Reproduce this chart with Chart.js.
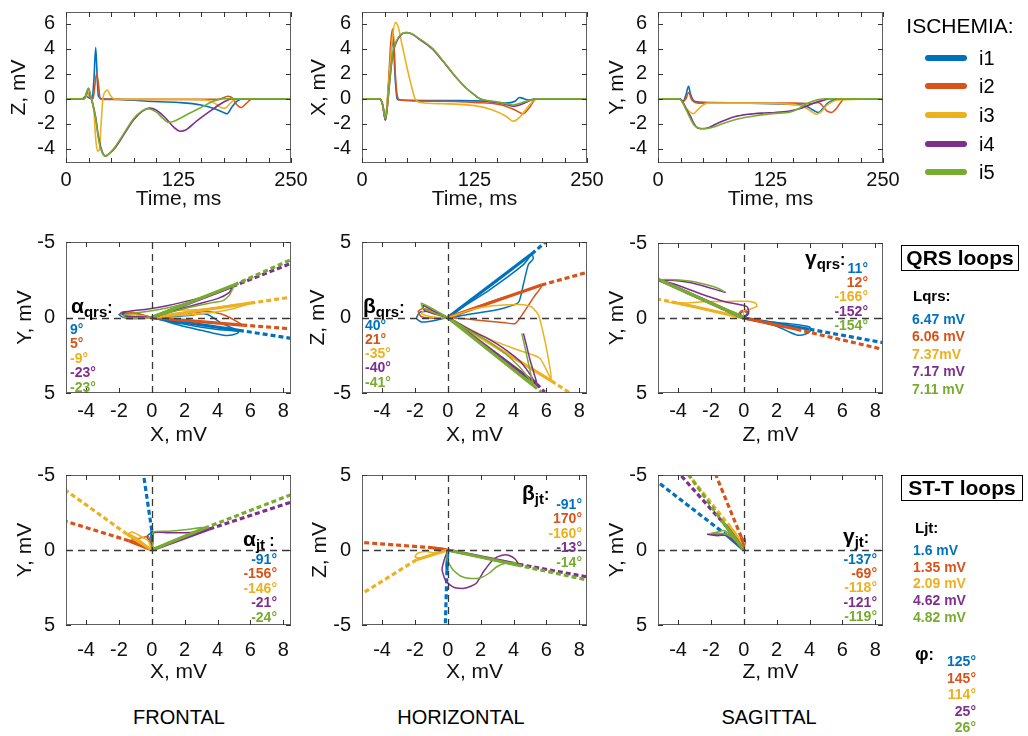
<!DOCTYPE html>
<html><head><meta charset="utf-8">
<script src="https://cdn.jsdelivr.net/npm/chart.js@4.4.1/dist/chart.umd.min.js"></script>
<style>
html,body{margin:0;padding:0;}
body{width:1028px;height:736px;background:#fff;position:relative;overflow:hidden;font-family:"Liberation Sans",Arial,sans-serif;color:#000;}
canvas{position:absolute;}
.t{position:absolute;white-space:nowrap;line-height:1;}
.box{position:absolute;border:1px solid #000;box-sizing:border-box;display:flex;align-items:center;justify-content:center;font-weight:bold;font-size:21px;}
</style></head><body>
<script>
// ---------- series ----------
const seriesNames = ['i1','i2','i3','i4','i5'];
const seriesColors = ['#0072BD','#D95319','#EDB120','#7E2F8E','#77AC30'];

// ---------- tick labels ----------
const timeTicks = [0,25,50,75,100,125,150,175,200,225,250];
const timeTickLabels = [0,125,250];
const waveYTicks = [-4,-2,0,2,4,6];
const loopXTicks = [-4,-2,0,2,4,6,8];
const loopYTicks = [-5,0,5];

// ---------- Z lead (time ms, mV) ----------
const zI1 = [[0,0],[18,0],[22,0.2],[25,0.1],[29,0],[31,1.5],[33,4.1],[34.5,2],[36,0.2],[40,0],[60,-0.05],[90,-0.2],[125,-0.3],[150,-0.5],[165,-0.8],[175,-1.1],[179,-1.2],[184,-0.7],[190,-0.2],[198,0],[250,0]];
const zI2 = [[0,0],[20,0],[24,0.5],[27,0.1],[30,0],[32,1.0],[34,2.0],[36,1.2],[38,0],[42,-0.05],[100,-0.05],[170,-0.05],[180,0.2],[185,0.05],[190,-0.5],[195,-0.7],[200,-0.4],[207,0],[250,0]];
const zI3 = [[0,0],[20,0],[25,0.4],[28,0],[31,-1.0],[33,-3.2],[35,-4.2],[37,-4.1],[39,-2],[41,0],[44,0.6],[46,0.7],[49,0.3],[53,0],[60,-0.05],[125,-0.05],[155,-0.1],[165,-0.35],[172,-0.7],[177,-0.75],[182,-0.4],[188,-0.05],[200,0],[250,0]];
const zI4 = [[0,0],[20,0],[25,0.8],[27,0.3],[30,-0.5],[33,-1.5],[36,-3.0],[40,-4.2],[44,-4.6],[48,-4.4],[55,-3.9],[65,-2.8],[75,-1.7],[85,-1.0],[93,-0.75],[100,-0.9],[110,-1.5],[120,-2.3],[127,-2.6],[133,-2.5],[145,-1.8],[160,-1.0],[172,-0.4],[180,-0.1],[185,0],[250,0]];
const zI5 = [[0,0],[20,0],[25,0.85],[27,0.4],[30,-0.5],[33,-1.6],[36,-3.2],[40,-4.3],[44,-4.6],[48,-4.4],[55,-3.8],[65,-2.7],[75,-1.6],[85,-0.95],[91,-0.8],[100,-1.05],[108,-1.6],[114,-1.9],[120,-1.8],[135,-1.25],[150,-0.7],[162,-0.25],[170,-0.05],[175,0],[250,0]];

// ---------- X lead ----------
const xI1 = [[0,0],[20,0],[23,-0.5],[26,-1.7],[28,-0.5],[30,1.5],[32,3.5],[34,4.7],[35,4.2],[37,1.5],[39,0],[42,-0.1],[100,-0.15],[140,-0.2],[160,-0.35],[170,-0.2],[175,0.1],[178,0.05],[185,-0.1],[195,0],[250,0]];
const xI2 = [[0,0],[20,0],[23,-0.5],[26,-1.7],[28,-0.3],[30,2],[32,4.5],[34,5.6],[35.5,4.5],[37,2],[39,0.3],[42,-0.1],[80,-0.2],[125,-0.3],[155,-0.5],[170,-0.9],[179,-1.2],[186,-0.7],[194,0],[250,0]];
const xI3 = [[0,0],[20,0],[23,-0.5],[26,-1.6],[28,-0.3],[31,2.5],[34,5],[37,6.1],[40,5.8],[44,4.5],[50,2.5],[55,1],[59,0],[65,-0.3],[90,-0.4],[125,-0.55],[145,-0.9],[160,-1.4],[168,-1.8],[175,-1.5],[185,-0.6],[194,0],[250,0]];
const xI4 = [[0,0],[20,0],[23,-0.5],[26,-1.7],[28,-0.8],[31,1.5],[34,3.5],[38,4.5],[43,5.1],[49,5.3],[55,5.2],[65,4.7],[78,4.0],[90,3.0],[101,2.0],[115,0.9],[125,0.3],[131,0],[140,-0.2],[150,-0.3],[160,-0.45],[168,-0.6],[175,-0.5],[185,-0.2],[194,0],[250,0]];
const xI5 = [[0,0],[20,0],[23,-0.5],[26,-1.6],[28,-0.7],[31,1.6],[34,3.6],[38,4.6],[43,5.15],[49,5.3],[55,5.2],[65,4.75],[78,4.05],[90,3.05],[101,2.05],[115,0.9],[125,0.3],[131,0],[140,-0.15],[150,-0.25],[160,-0.4],[168,-0.5],[178,-0.3],[188,-0.1],[194,0],[250,0]];

// ---------- Y lead ----------
const yI1 = [[0,0],[24,0],[28,-0.2],[31,0.3],[34,1.0],[36,0.4],[39,-0.1],[43,-0.25],[60,-0.3],[100,-0.35],[125,-0.4],[150,-0.45],[165,-0.6],[172,-0.9],[178,-1.1],[183,-0.8],[188,-0.4],[195,-0.1],[200,0],[250,0]];
const yI2 = [[0,0],[24,0],[28,-0.2],[31,0],[34,0.5],[37,0],[40,-0.25],[45,-0.35],[100,-0.35],[150,-0.35],[170,-0.4],[178,-0.3],[182,-0.5],[188,-1.0],[193,-1.1],[198,-0.8],[203,-0.3],[207,0],[250,0]];
const yI3 = [[0,0],[24,0],[28,-0.4],[32,-0.8],[36,-1.1],[39,-1.2],[44,-0.9],[50,-0.5],[55,-0.35],[100,-0.35],[150,-0.45],[162,-0.65],[170,-1.0],[176,-1.25],[182,-1.0],[188,-0.5],[195,-0.2],[200,-0.1],[250,0]];
const yI4 = [[0,0],[24,0],[28,-0.3],[32,-0.9],[36,-1.4],[40,-2.0],[44,-2.35],[48,-2.4],[55,-2.35],[65,-2.0],[75,-1.7],[85,-1.45],[100,-1.25],[115,-1.15],[130,-1.1],[145,-1.0],[155,-0.85],[165,-0.6],[175,-0.3],[185,-0.1],[191,0],[250,0]];
const yI5 = [[0,0],[24,0],[28,-0.4],[32,-1.0],[36,-1.6],[40,-2.1],[45,-2.35],[52,-2.4],[60,-2.3],[70,-2.05],[80,-1.8],[90,-1.6],[105,-1.4],[120,-1.25],[135,-1.15],[145,-1.1],[155,-0.85],[165,-0.4],[172,-0.2],[180,-0.05],[185,0],[250,0]];

// ---------- QRS loops, frontal (X, Y) ----------
const frontalQrsLoops = [
 [[0,0],[-0.8,-0.2],[-1.6,-0.3],[-2.0,-0.2],[-1.7,0],[-0.8,0.05],[0,0],[1,0.3],[2,0.6],[3,0.85],[4,1.1],[4.6,1.2],[5.2,1.05],[5.3,0.9],[4.8,0.65],[4.2,0.35],[3.8,0.05],[3.4,-0.2],[3.0,-0.25],[2.4,-0.15],[1.2,-0.05],[0,0],[2,0.45],[4,0.8],[5.3,0.9]],
 [[0,0],[-0.8,-0.25],[-1.6,-0.4],[-1.9,-0.3],[-1.6,-0.1],[-0.8,-0.05],[0,0],[1.2,-0.15],[2.4,-0.3],[3.3,-0.4],[4.2,-0.25],[4.9,0.1],[5.5,0.5],[4.4,0.4],[3,0.3],[1.5,0.15],[0,0]],
 [[0,0],[-0.8,-0.15],[-1.5,-0.2],[-1.6,0.05],[-0.8,0.1],[0,0],[1.2,-0.45],[2.4,-0.5],[3.6,-0.6],[4.8,-0.8],[6.0,-0.95],[5.0,-0.6],[3.8,-0.35],[2.5,-0.2],[1.2,-0.1],[0,0]],
 [[0,0],[-0.8,-0.05],[-1.6,-0.1],[-1.8,-0.3],[-1.2,-0.45],[-0.3,-0.55],[1,-0.8],[2.4,-1.15],[3.6,-1.5],[4.4,-1.8],[4.9,-2.05],[4.7,-1.65],[4.0,-1.25],[2.8,-0.9],[1.5,-0.5],[0.5,-0.15],[0,0]],
 [[0,0],[-0.8,0.05],[-1.6,0.05],[-1.7,-0.15],[-1.1,-0.3],[-0.3,-0.4],[1,-0.65],[2.4,-1.05],[3.6,-1.55],[4.5,-1.95],[5.0,-2.15],[4.7,-1.45],[4.3,-1.1],[3.5,-0.95],[2.2,-0.65],[1.0,-0.3],[0,0]]
];
const frontalQrsVectors = [[[0,0],[5.3,0.85]],[[0,0],[5.5,0.5]],[[0,0],[6.0,-0.95]],[[0,0],[4.9,-2.05]],[[0,0],[5.0,-2.15]]];
const frontalQrsAxes = [[[5.3,0.85],[8.5,1.38]],[[5.5,0.5],[8.5,0.75]],[[6.0,-0.95],[8.5,-1.35]],[[4.9,-2.05],[8.5,-3.6]],[[5.0,-2.15],[8.5,-3.85]]];

// ---------- QRS loops, horizontal (X, Z) ----------
const horizontalQrsLoops = [
 [[0,0],[-0.8,-0.2],[-1.6,-0.3],[-1.9,-0.05],[-1.7,0.35],[-1.1,0.4],[-0.4,0.2],[0,0],[1.3,1.1],[2.6,2.1],[3.8,3.1],[4.8,4.0],[5.1,4.2],[5.2,3.9],[4.9,3.5],[4.6,2.2],[4.3,1.0],[3.5,0.65],[2.4,0.4],[1.2,0.2],[0,0],[2.5,1.8],[4.6,3.5],[5.1,4.2]],
 [[0,0],[-0.8,0.35],[-1.5,0.6],[-1.8,0.4],[-1.6,0.05],[-0.8,-0.05],[0,0],[1.2,-0.1],[2.5,-0.25],[3.5,-0.35],[4.1,-0.4],[4.6,0.3],[5.2,1.3],[5.7,2.1],[4.5,1.7],[3,1.2],[1.5,0.6],[0,0]],
 [[0,0],[-0.7,0.3],[-1.4,0.5],[-1.6,0.25],[-1.0,0.05],[0,0],[1.2,0.45],[2.5,0.75],[3.8,0.85],[4.6,0.85],[5.1,0.7],[5.5,0.2],[5.8,-1.0],[6.1,-2.6],[6.3,-4.1],[5.6,-2.7],[4.4,-2.2],[2.8,-1.55],[1.4,-0.8],[0,0]],
 [[0,0],[-0.8,0.4],[-1.5,0.8],[-1.4,0.45],[-0.7,0.2],[0,0],[1.5,-0.9],[2.6,-1.5],[3.4,-2.05],[4.4,-2.9],[4.9,-3.6],[5.2,-4.1],[5.4,-4.3],[5.3,-3.9],[5.0,-2.8],[4.8,-1.9],[4.6,-1.05]],
 [[0,0],[-0.8,0.5],[-1.6,0.95],[-1.5,0.6],[-0.7,0.25],[0,0],[1.2,-0.8],[2.5,-1.6],[3.5,-2.4],[4.3,-3.2],[4.9,-4.0],[5.2,-4.5],[5.1,-4.0],[4.9,-3.0],[4.7,-2.0],[4.5,-1.05]]
];
const horizontalQrsVectors = [[[0,0],[5.1,4.2]],[[0,0],[5.7,2.15]],[[0,0],[6.3,-4.2]],[[0,0],[5.4,-4.4]],[[0,0],[5.2,-4.5]]];
const horizontalQrsAxes = [[[5.1,4.2],[5.95,5.0]],[[5.7,2.15],[8.5,3.0]],[[6.3,-4.2],[7.45,-5.0]],[[5.4,-4.4],[5.9,-4.95]],[[5.2,-4.5],[5.7,-4.95]]];

// ---------- QRS loops, sagittal (Z, Y) ----------
const sagittalQrsLoops = [
 [[0,0],[0.3,-0.3],[0.1,-0.5],[-0.2,-0.3],[0,0],[1,0.25],[2,0.55],[2.8,0.95],[3.3,1.15],[3.8,1.05],[4.1,0.8],[4.0,0.6],[3.3,0.45],[2.5,0.35],[1.5,0.25],[0.6,0.1],[0,0]],
 [[0,0],[-0.3,-0.3],[-0.1,-0.5],[0.2,-0.3],[0,0],[1,0.25],[2,0.5],[2.8,0.65],[3.2,0.75],[2.5,0.55],[1.5,0.3],[0,0]],
 [[0,0],[-1.2,-0.35],[-2.4,-0.6],[-3.6,-0.85],[-4.5,-1.05],[-3.5,-1.0],[-2.3,-1.1],[-1,-1.1],[0.2,-1.12],[0.7,-1.0],[0.8,-0.8],[0.4,-0.6],[0,-0.5],[0,0]],
 [[0,0],[0.3,-0.4],[0.2,-0.75],[-0.3,-0.9],[-1.2,-1.1],[-2.2,-1.45],[-3.2,-1.85],[-4.2,-2.25],[-4.95,-2.5],[-4.2,-2.5],[-3.2,-2.35],[-2.2,-2.05],[-1.1,-1.7]],
 [[0,0],[-0.5,-0.35],[-1.5,-0.75],[-2.5,-1.2],[-3.5,-1.65],[-4.4,-2.2],[-5.05,-2.55],[-4.2,-2.55],[-3.2,-2.45],[-2.2,-2.2],[-1.5,-1.95],[-1.2,-1.75]]
];
const sagittalQrsVectors = [[[0,0],[4.0,0.75]],[[0,0],[3.2,0.75]],[[0,0],[-3.6,-0.9]],[[0,0],[-4.95,-2.45]],[[0,0],[-5.05,-2.5]]];
const sagittalQrsAxes = [[[4.0,0.75],[8.5,1.65]],[[3.2,0.75],[8.5,2.1]],[[-3.6,-0.9],[-5.2,-1.25]],[[-4.95,-2.45],[-5.2,-2.55]],[[-5.05,-2.5],[-5.2,-2.6]]];

// ---------- ST-T loops, frontal (X, Y) ----------
const frontalStLoops = [
 [[0,0],[-0.1,-0.5],[-0.3,-0.9],[-0.1,-1.1],[0.05,-1.2],[0.05,-0.6],[0,0]],
 [[0,0],[-0.4,-0.3],[-0.9,-0.55],[-1.3,-0.65],[-0.9,-0.75],[-0.5,-0.85],[-0.2,-0.9],[-0.1,-0.5],[0,0]],
 [[0,0],[-0.5,-0.45],[-1.0,-0.85],[-1.4,-1.1],[-1.2,-1.2],[-0.8,-1.0],[-0.5,-0.8],[-0.2,-0.6],[0,0]],
 [[0,0],[0.05,-0.6],[0.1,-1.15],[1,-1.15],[2,-1.15],[2.6,-1.2],[3.5,-1.45],[2.4,-1.0],[1.2,-0.5],[0,0]],
 [[0,0],[0.05,-0.6],[0.1,-1.2],[1,-1.25],[2,-1.35],[3.2,-1.5],[2.2,-1.05],[1.1,-0.55],[0,0]]
];
const frontalStVectors = [[[0,0],[0,-1.3]],[[0,0],[-1.4,-0.62]],[[0,0],[-1.5,-1.05]],[[0,0],[3.5,-1.4]],[[0,0],[3.2,-1.45]]];
const frontalStAxes = [[[0,-1.3],[-0.5,-5]],[[-1.4,-0.62],[-5.2,-1.9]],[[-1.5,-1.05],[-5.2,-3.95]],[[3.5,-1.4],[8.5,-3.2]],[[3.2,-1.45],[8.5,-3.7]]];

// ---------- ST-T loops, horizontal (X, Z) ----------
const horizontalStLoops = [
 [[0,0],[-0.05,-0.5],[-0.1,-1.0],[-0.05,-1.3],[0,-0.6],[0,0]],
 [[0,0],[-0.3,0.1],[-0.7,0.15],[-0.9,0.1],[-0.5,0.0],[0,0]],
 [[0,0],[-0.5,-0.15],[-1.0,-0.35],[-1.6,-0.55],[-2.0,-0.45],[-1.8,-0.2],[-1.3,-0.1],[-0.8,-0.2],[-0.4,-0.1],[0,0]],
 [[0,0],[-0.2,-0.6],[-0.35,-1.3],[-0.1,-2.1],[0.4,-2.5],[1.0,-2.55],[1.7,-2.25],[2.2,-1.4],[2.8,-0.6],[3.3,-0.35],[3.7,-0.35],[4.1,-0.6],[4.3,-0.95]],
 [[0,0],[-0.05,-0.6],[0.3,-1.3],[0.8,-1.75],[1.4,-1.9],[2.0,-1.85],[2.5,-1.55],[3.0,-1.1],[3.6,-0.85],[4.2,-0.85]]
];
const horizontalStVectors = [[[0,0],[-0.05,-1.35]],[[0,0],[-0.9,0.15]],[[0,0],[-1.9,-0.65]],[[0,0],[4.3,-0.95]],[[0,0],[4.2,-1.0]]];
const horizontalStAxes = [[[-0.05,-1.35],[-0.15,-5]],[[-0.9,0.15],[-5.2,0.5]],[[-1.9,-0.65],[-5.2,-2.9]],[[4.3,-0.95],[8.5,-1.8]],[[4.2,-1.0],[8.5,-2.0]]];

// ---------- ST-T loops, sagittal (Z, Y) ----------
const sagittalStLoops = [
 [[0,0],[-0.3,-0.3],[-0.6,-0.6],[-0.9,-0.9],[-0.7,-0.95],[-0.4,-0.7],[-0.2,-0.4],[0,0]],
 [[0,0],[0.05,-0.3],[0.1,-0.6],[0.05,-0.8],[-0.1,-0.5],[0,0]],
 [[0,0],[-0.3,-0.5],[-0.6,-1.0],[-0.8,-1.4],[-0.6,-1.3],[-0.3,-0.8],[0,0]],
 [[0,0],[-0.4,-0.4],[-0.8,-0.8],[-1.3,-1.05],[-2.2,-1.05],[-1.6,-0.95],[-0.9,-1.0],[-0.5,-0.6],[0,0]],
 [[0,0],[-0.4,-0.5],[-0.8,-0.9],[-1.3,-1.1],[-2.0,-1.1],[-1.6,-1.2],[-1.2,-1.3],[-0.6,-0.8],[0,0]]
];
const sagittalStVectors = [[[0,0],[-1.0,-0.95]],[[0,0],[-0.15,-0.85]],[[0,0],[-0.8,-1.5]],[[0,0],[-1.0,-1.5]],[[0,0],[-1.2,-1.75]]];
const sagittalStAxes = [[[-1.0,-0.95],[-5.2,-4.5]],[[-0.15,-0.85],[-1.7,-5]],[[-0.8,-1.5],[-3.35,-5]],[[-1.0,-1.5],[-3.85,-5]],[[-1.2,-1.75],[-3.35,-5]]];

// ---------- annotation values ----------
const alphaQrs = ['9°','5°','-9°','-23°','-23°'];
const betaQrs = ['40°','21°','-35°','-40°','-41°'];
const gammaQrs = ['11°','12°','-166°','-152°','-154°'];
const lengthQrs = ['6.47 mV','6.06 mV','7.37mV','7.17 mV','7.11 mV'];
const alphaJt = ['-91°','-156°','-146°','-21°','-24°'];
const betaJt = ['-91°','170°','-160°','-13°','-14°'];
const gammaJt = ['-137°','-69°','-118°','-121°','-119°'];
const lengthJt = ['1.6 mV','1.35 mV','2.09 mV','4.62 mV','4.82 mV'];
const phiAngle = ['125°','145°','114°','25°','26°'];
const planeNames = ['FRONTAL','HORIZONTAL','SAGITTAL'];

// ================= rendering =================
const FONT = '"Liberation Sans", Arial, sans-serif';
const LW = 60, TP = 10, RP = 30, BH = 60;
const toPts = arr => arr.map(p => ({x:p[0], y:p[1]}));
const noPad = s => { s.paddingTop = 0; s.paddingBottom = 0; s.paddingLeft = 0; s.paddingRight = 0; };

const framePlugin = {
  id: 'frame',
  afterDatasetsDraw(chart, args, opts) {
    const {ctx, chartArea: a, scales: {x, y}} = chart;
    ctx.save();
    if (opts.cross) {
      ctx.strokeStyle = '#3a3a3a'; ctx.lineWidth = 1.3; ctx.setLineDash([7,5]);
      const px = Math.round(x.getPixelForValue(0)) + 0.5, py = Math.round(y.getPixelForValue(0)) + 0.5;
      ctx.beginPath(); ctx.moveTo(px, a.top); ctx.lineTo(px, a.bottom); ctx.stroke();
      ctx.beginPath(); ctx.moveTo(a.left, py); ctx.lineTo(a.right, py); ctx.stroke();
      ctx.setLineDash([]);
    }
    ctx.strokeStyle = '#5f5f5f'; ctx.lineWidth = 1;
    ctx.strokeRect(a.left + 0.5, a.top + 0.5, a.width - 1, a.height - 1);
    ctx.strokeStyle = '#333'; const L = 5;
    x.ticks.forEach(t => {
      const p = Math.round(x.getPixelForValue(t.value)) + 0.5;
      ctx.beginPath(); ctx.moveTo(p, a.bottom); ctx.lineTo(p, a.bottom - L);
      ctx.moveTo(p, a.top); ctx.lineTo(p, a.top + L); ctx.stroke();
    });
    y.ticks.forEach(t => {
      const p = Math.round(y.getPixelForValue(t.value)) + 0.5;
      ctx.beginPath(); ctx.moveTo(a.left, p); ctx.lineTo(a.left + L, p);
      ctx.moveTo(a.right, p); ctx.lineTo(a.right - L, p); ctx.stroke();
    });
    ctx.restore();
  }
};

function makePanel(cfg) {
  const c = document.createElement('canvas');
  const W = cfg.w + LW + RP, H = cfg.h + TP + BH;
  c.width = W; c.height = H;
  c.style.left = (cfg.x - LW) + 'px'; c.style.top = (cfg.y - TP) + 'px';
  c.style.width = W + 'px'; c.style.height = H + 'px';
  document.body.appendChild(c);
  const tickFont = {family: FONT, size: 20};
  const titleFont = {family: FONT, size: 21};
  new Chart(c, {
    type: 'scatter',
    data: {datasets: cfg.datasets},
    options: {
      responsive: false, animation: false, devicePixelRatio: 1,
      layout: {padding: {left: 0, top: TP, right: RP, bottom: 0}, autoPadding: false},
      plugins: {legend: {display: false}, tooltip: {enabled: false}, frame: {cross: cfg.cross}},
      elements: {point: {radius: 0}},
      scales: {
        x: {
          type: 'linear', position: 'bottom', min: cfg.xMin, max: cfg.xMax,
          afterFit: s => { s.height = BH; noPad(s); },
          afterBuildTicks: s => { s.ticks = cfg.xTicks.map(v => ({value: v})); },
          ticks: {font: tickFont, color: '#111', padding: cfg.xLabPad, maxRotation: 0, autoSkip: false,
                  callback: v => (cfg.xLabels ? (cfg.xLabels.includes(v) ? String(v) : '') : String(v))},
          grid: {display: false, drawTicks: false}, border: {display: false},
          title: {display: true, text: cfg.xTitle, font: titleFont, color: '#111', padding: {top: 0, bottom: cfg.xTitlePad}}
        },
        y: {
          type: 'linear', position: 'left', min: cfg.yMin, max: cfg.yMax, reverse: !!cfg.yReverse,
          afterFit: s => { s.width = LW; noPad(s); },
          afterBuildTicks: s => { s.ticks = cfg.yTicks.map(v => ({value: v})); },
          ticks: {font: tickFont, color: '#111', padding: 11, autoSkip: false, callback: v => String(v)},
          grid: {display: false, drawTicks: false}, border: {display: false},
          title: {display: true, text: cfg.yTitle, font: titleFont, color: '#111', padding: {top: 47.4 - cfg.yTitleDist, bottom: 0}}
        }
      }
    },
    plugins: [framePlugin]
  });
}

function waveSets(list) {
  const ds = [];
  for (let i = list.length - 1; i >= 0; i--) {
    ds.push({data: toPts(list[i]), borderColor: seriesColors[i], borderWidth: 1.6, showLine: true,
             pointRadius: 0, cubicInterpolationMode: 'monotone', fill: false});
  }
  return ds;
}
function loopSets(loops, vectors, axes) {
  const ds = [];
  for (let i = loops.length - 1; i >= 0; i--) {
    ds.push({data: toPts(axes[i]), borderColor: seriesColors[i], borderWidth: 3.2, borderDash: [5,3], showLine: true, pointRadius: 0});
    ds.push({data: toPts(vectors[i]), borderColor: seriesColors[i], borderWidth: 3.2, showLine: true, pointRadius: 0});
    ds.push({data: toPts(loops[i]), borderColor: seriesColors[i], borderWidth: 1.5, showLine: true, pointRadius: 0, tension: 0.2});
  }
  return ds;
}

const colX = [66, 362, 658];
const waveCommon = {w: 225, h: 151, y: 12, xMin: 0, xMax: 250, xTicks: timeTicks, xLabels: timeTickLabels,
  yMin: -5.15, yMax: 6.95, yTicks: waveYTicks, xTitle: 'Time, ms', xLabPad: 5, xTitlePad: 11.5, cross: false};
makePanel({...waveCommon, x: colX[0], yTitle: 'Z, mV', yTitleDist: 47, datasets: waveSets([zI1,zI2,zI3,zI4,zI5])});
makePanel({...waveCommon, x: colX[1], yTitle: 'X, mV', yTitleDist: 43, datasets: waveSets([xI1,xI2,xI3,xI4,xI5])});
makePanel({...waveCommon, x: colX[2], yTitle: 'Y, mV', yTitleDist: 41, datasets: waveSets([yI1,yI2,yI3,yI4,yI5])});

const loopCommon = {w: 225, xMin: -5.22, xMax: 8.47, xTicks: loopXTicks, yMin: -5, yMax: 5, yTicks: loopYTicks, cross: true};
makePanel({...loopCommon, x: colX[0], y: 242, h: 151, yReverse: true, xTitle: 'X, mV', yTitle: 'Y, mV', yTitleDist: 41, xLabPad: 6, xTitlePad: 5.5,
  datasets: loopSets(frontalQrsLoops, frontalQrsVectors, frontalQrsAxes)});
makePanel({...loopCommon, x: colX[1], y: 242, h: 151, yReverse: false, xTitle: 'X, mV', yTitle: 'Z, mV', yTitleDist: 44, xLabPad: 6, xTitlePad: 5.5,
  datasets: loopSets(horizontalQrsLoops, horizontalQrsVectors, horizontalQrsAxes)});
makePanel({...loopCommon, x: colX[2], y: 243, h: 150, yReverse: true, xTitle: 'Z, mV', yTitle: 'Y, mV', yTitleDist: 41, xLabPad: 6, xTitlePad: 5.5,
  datasets: loopSets(sagittalQrsLoops, sagittalQrsVectors, sagittalQrsAxes)});

makePanel({...loopCommon, x: colX[0], y: 475, h: 150, yReverse: true, xTitle: 'X, mV', yTitle: 'Y, mV', yTitleDist: 41, xLabPad: 13, xTitlePad: 0.5,
  datasets: loopSets(frontalStLoops, frontalStVectors, frontalStAxes)});
makePanel({...loopCommon, x: colX[1], y: 475, h: 150, yReverse: false, xTitle: 'X, mV', yTitle: 'Z, mV', yTitleDist: 42, xLabPad: 13, xTitlePad: 0.5,
  datasets: loopSets(horizontalStLoops, horizontalStVectors, horizontalStAxes)});
makePanel({...loopCommon, x: colX[2], y: 475, h: 150, yReverse: true, xTitle: 'Z, mV', yTitle: 'Y, mV', yTitleDist: 41, xLabPad: 13, xTitlePad: 0.5,
  datasets: loopSets(sagittalStLoops, sagittalStVectors, sagittalStAxes)});

// ---------- text overlays ----------
function addText(html, x, y, o = {}) {
  const d = document.createElement('div');
  d.className = 't';
  d.innerHTML = html;
  d.style.left = x + 'px'; d.style.top = y + 'px';
  d.style.fontSize = (o.size || 14) + 'px';
  d.style.fontWeight = o.bold === false ? 'normal' : 'bold';
  d.style.color = o.color || '#000';
  const tx = o.align === 'center' ? '-50%' : o.align === 'right' ? '-100%' : '0';
  d.style.transform = `translate(${tx},-50%)`;
  document.body.appendChild(d);
  return d;
}
function greek(sym, sub) {
  return `<span style="font-size:21px">${sym}</span><span style="font-size:15px;position:relative;top:4px">${sub}</span><span style="font-size:16px">:</span>`;
}
function valueColumn(vals, x, y0, dy, align) {
  vals.forEach((v, i) => addText(v, x, y0 + i * dy, {color: seriesColors[i], align, size: 14}));
}

// legend
addText('ISCHEMIA:', 960, 25, {size: 21, bold: false, align: 'center'});
seriesNames.forEach((n, i) => {
  const yy = 57.5 + i * 28.7;
  const ln = document.createElement('div');
  ln.style.cssText = `position:absolute;left:925px;top:${yy - 3}px;width:42px;height:6px;border-radius:3px;background:${seriesColors[i]}`;
  document.body.appendChild(ln);
  addText(n, 979, yy, {size: 20, bold: false});
});

// boxes
function addBox(text, l, t, w, h) {
  const b = document.createElement('div');
  b.className = 'box'; b.textContent = text;
  b.style.left = l + 'px'; b.style.top = t + 'px'; b.style.width = w + 'px'; b.style.height = h + 'px';
  document.body.appendChild(b);
}
addBox('QRS loops', 901, 245, 118, 26);
addBox('ST-T loops', 901, 475, 122, 26);

// QRS annotations
addText(greek('α','qrs'), 71, 305);
valueColumn(alphaQrs, 70, 328.5, 14.5, 'left');
addText(greek('β','qrs'), 363, 305);
valueColumn(betaQrs, 365, 324.5, 14.3, 'left');
addText(greek('γ','qrs'), 805, 257);
valueColumn(gammaQrs, 868, 267.5, 14.4, 'right');
addText('Lqrs:', 913, 295, {size: 15});
valueColumn(lengthQrs, 912, 318.5, 17.5, 'left');

// ST-T annotations
addText(greek('α','jt '), 243, 538);
valueColumn(alphaJt, 277, 559, 14.4, 'right');
addText(greek('β','jt'), 522, 492);
valueColumn(betaJt, 582, 503.5, 14.6, 'right');
addText(greek('γ','jt'), 843, 535);
valueColumn(gammaJt, 877, 558.5, 14.4, 'right');
addText('Ljt:', 915, 527, {size: 15});
valueColumn(lengthJt, 913, 550, 16.7, 'left');
addText('φ<span style="font-size:16px">:</span>', 915, 653, {size: 19});
valueColumn(phiAngle, 976, 661, 16.6, 'right');

// plane names
addText(planeNames[0], 179, 717, {size: 20, bold: false, align: 'center'});
addText(planeNames[1], 461, 717, {size: 20, bold: false, align: 'center'});
addText(planeNames[2], 769, 717, {size: 20, bold: false, align: 'center'});
</script>
</body></html>
